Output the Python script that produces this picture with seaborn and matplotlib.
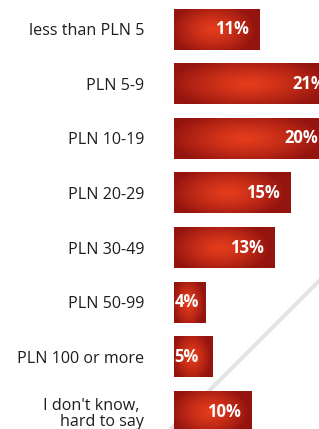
import matplotlib
matplotlib.use("Agg")
import matplotlib.pyplot as plt
from matplotlib.lines import Line2D
import seaborn as sns
import numpy as np
import pandas as pd

categories = ["less than PLN 5", "PLN 5-9", "PLN 10-19", "PLN 20-29",
              "PLN 30-49", "PLN 50-99", "PLN 100 or more",
              "I don't know, \nhard to say"]
values = [11, 21, 20, 15, 13, 4, 5, 10]

CENTER = np.array([228, 60, 28]) / 255
EDGE = np.array([148, 20, 15]) / 255

sns.set_style("white")
plt.rcParams['font.family'] = ['Open Sans', 'DejaVu Sans']


def bar_gradient(nx=160, ny=48):
    u = np.linspace(-1, 1, nx)[None, :]
    v = np.linspace(-1, 1, ny)[:, None]
    r = np.sqrt((u + 0.08) ** 2 + 0.55 * v ** 2)
    t = np.clip(r, 0, 1)[..., None] ** 1.3
    return CENTER * (1 - t) + EDGE * t


df = pd.DataFrame({"category": categories, "share": values})

fig = plt.figure(figsize=(3.19, 4.29), dpi=100)
ax = fig.add_axes([174 / 319, 0, 145 / 319, 1])
sns.barplot(data=df, x="share", y="category", orient="h", width=0.75,
            color="#c0261a", saturation=1, ax=ax)

# radial red fill on each bar
for patch in ax.patches:
    x0, y0 = patch.get_x(), patch.get_y()
    w, h = patch.get_width(), patch.get_height()
    im = ax.imshow(bar_gradient(), extent=[x0, x0 + w, y0 + h, y0],
                   aspect='auto', interpolation='bilinear', zorder=2)
    im.set_clip_path(patch)
    patch.set_facecolor('none')
    patch.set_edgecolor('none')

for i, v in enumerate(values):
    if v < 6:
        ax.text(0.05, i, f"{v}%", ha='left', va='center', color='white',
                fontsize=12, fontweight='bold', zorder=3)
    else:
        ax.text(v - 1.35, i, f"{v}%", ha='right', va='center', color='white',
                fontsize=12, fontweight='bold', zorder=3)

ax.set_xlim(0, 18.7)
ax.set_ylim(7.32, -0.531)
ax.set_xticks([])
ax.set_xlabel('')
ax.set_ylabel('')
ax.tick_params(axis='y', length=0, pad=21.6, labelsize=11.6, labelcolor='#1e1e1e')
for lbl in ax.get_yticklabels():
    lbl.set_linespacing(1.0)
sns.despine(ax=ax, left=True, bottom=True)
ax.set_zorder(1)
ax.patch.set_alpha(0)

fig.add_artist(Line2D([171 / 319, 1.0], [0, 148 / 429], transform=fig.transFigure,
                      color='#e3e3e3', lw=3, zorder=0.5))

fig.savefig("out.png", dpi=100)
plt.close(fig)
